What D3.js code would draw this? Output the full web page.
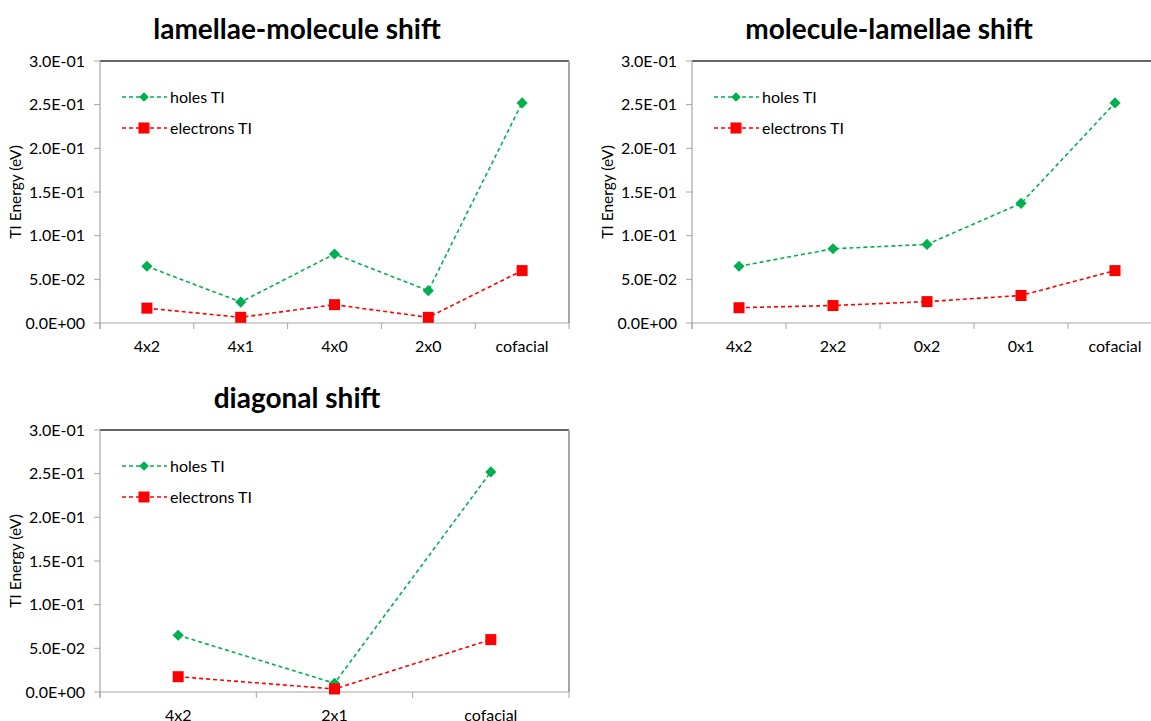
<!DOCTYPE html>
<html>
<head>
<meta charset="utf-8">
<script src="https://cdn.jsdelivr.net/npm/d3@7"></script>
<style>
  body { margin: 0; background: #fff; }
  text { font-family: Lato, "Open Sans", sans-serif; fill: #000; }
</style>
</head>
<body>
<div id="chart"></div>
<script>
// values
const catsLM = ["4x2", "4x1", "4x0", "2x0", "cofacial"];
const holesLM = [0.065, 0.024, 0.079, 0.037, 0.252];
const elecLM = [0.017, 0.0065, 0.021, 0.0065, 0.060];

const catsML = ["4x2", "2x2", "0x2", "0x1", "cofacial"];
const holesML = [0.065, 0.085, 0.090, 0.137, 0.252];
const elecML = [0.0175, 0.020, 0.0245, 0.0315, 0.060];

const catsD = ["4x2", "2x1", "cofacial"];
const holesD = [0.065, 0.010, 0.252];
const elecD = [0.0175, 0.0035, 0.060];

const yTicks = [0, 0.05, 0.10, 0.15, 0.20, 0.25, 0.30];
const yTickLabels = ["0.0E+00", "5.0E-02", "1.0E-01", "1.5E-01", "2.0E-01", "2.5E-01", "3.0E-01"];

const seriesNames = ["holes TI", "electrons TI"];
const green = "#00b050";
const red = "#ff0000";

const svg = d3.select("#chart").append("svg")
  .attr("width", 1151)
  .attr("height", 721);

function drawPanel(left, top, catW, title, cats, holes, elec) {
  const w = catW * cats.length;
  const h = 262;
  const g = svg.append("g").attr("transform", `translate(${left},${top})`);

  const x = d3.scaleBand().domain(cats).range([0, w]).padding(0);
  const y = d3.scaleLinear().domain([0, 0.3]).range([h, 0]);

  // title
  g.append("text")
    .attr("x", 197)
    .attr("y", -22)
    .attr("text-anchor", "middle")
    .attr("font-size", 28)
    .attr("font-weight", "bold")
    .text(title);

  // frame: top dark, right grey
  g.append("line").attr("x1", 0).attr("x2", w).attr("y1", 0).attr("y2", 0)
    .attr("stroke", "#333").attr("stroke-width", 1.5);
  g.append("line").attr("x1", w).attr("x2", w).attr("y1", 0).attr("y2", h)
    .attr("stroke", "#a6a6a6").attr("stroke-width", 2);

  // y axis
  g.append("line").attr("x1", 0).attr("x2", 0).attr("y1", 0).attr("y2", h + 6)
    .attr("stroke", "#a6a6a6").attr("stroke-width", 1.2);
  g.selectAll(".ytick")
    .data(yTicks)
    .join("line")
      .attr("class", "ytick")
      .attr("x1", -6).attr("x2", 0)
      .attr("y1", d => y(d)).attr("y2", d => y(d))
      .attr("stroke", "#a6a6a6");
  g.selectAll(".ylab")
    .data(yTicks)
    .join("text")
      .attr("class", "ylab")
      .attr("x", -15)
      .attr("y", d => y(d))
      .attr("dy", "0.35em")
      .attr("text-anchor", "end")
      .attr("font-size", 16)
      .attr("fill", "#222")
      .text((d, i) => yTickLabels[i]);

  g.append("text")
    .attr("transform", `translate(-79,${h / 2}) rotate(-90)`)
    .attr("text-anchor", "middle")
    .attr("font-size", 15.5)
    .text("TI Energy (eV)");

  // x axis
  g.append("line").attr("x1", 0).attr("x2", w).attr("y1", h).attr("y2", h)
    .attr("stroke", "#a6a6a6").attr("stroke-width", 1.2);
  const bounds = cats.map(c => x(c)).concat([w]);
  g.selectAll(".xtick")
    .data(bounds)
    .join("line")
      .attr("class", "xtick")
      .attr("x1", d => d).attr("x2", d => d)
      .attr("y1", h).attr("y2", h + 6)
      .attr("stroke", "#a6a6a6");
  g.selectAll(".xlab")
    .data(cats)
    .join("text")
      .attr("class", "xlab")
      .attr("x", d => x(d) + x.bandwidth() / 2)
      .attr("y", h + 29)
      .attr("text-anchor", "middle")
      .attr("font-size", 16)
      .attr("fill", "#222")
      .text(d => d);

  const line = d3.line()
    .x((d, i) => x(cats[i]) + x.bandwidth() / 2)
    .y(d => y(d));

  // holes
  g.append("path")
    .datum(holes)
    .attr("d", line)
    .attr("fill", "none")
    .attr("stroke", green)
    .attr("stroke-width", 1.6)
    .attr("stroke-dasharray", "4,3");
  g.selectAll(".hm")
    .data(holes)
    .join("path")
      .attr("class", "hm")
      .attr("transform", (d, i) => `translate(${x(cats[i]) + x.bandwidth() / 2},${y(d)})`)
      .attr("d", d3.symbol(d3.symbolDiamond2, 80))
      .attr("fill", green);

  // electrons
  g.append("path")
    .datum(elec)
    .attr("d", line)
    .attr("fill", "none")
    .attr("stroke", red)
    .attr("stroke-width", 1.6)
    .attr("stroke-dasharray", "4,3");
  g.selectAll(".em")
    .data(elec)
    .join("rect")
      .attr("class", "em")
      .attr("x", (d, i) => x(cats[i]) + x.bandwidth() / 2 - 5.5)
      .attr("y", d => y(d) - 5.5)
      .attr("width", 11).attr("height", 11)
      .attr("fill", red);

  // legend
  const leg = g.append("g").attr("transform", "translate(22,0)");
  [green, red].forEach((c, i) => {
    const ly = 36 + i * 31;
    leg.append("line")
      .attr("x1", 0).attr("x2", 45).attr("y1", ly).attr("y2", ly)
      .attr("stroke", c).attr("stroke-width", 1.6).attr("stroke-dasharray", "4,3");
    if (i === 0) {
      leg.append("path")
        .attr("transform", `translate(22,${ly})`)
        .attr("d", d3.symbol(d3.symbolDiamond2, 60))
        .attr("fill", c);
    } else {
      leg.append("rect")
        .attr("x", 16.5).attr("y", ly - 5.5)
        .attr("width", 11).attr("height", 11)
        .attr("fill", c);
    }
    leg.append("text")
      .attr("x", 48)
      .attr("y", ly)
      .attr("dy", "0.35em")
      .attr("font-size", 16)
      .attr("fill", "#222")
      .text(seriesNames[i]);
  });
}

drawPanel(100, 61, 93.8, "lamellae-molecule shift", catsLM, holesLM, elecLM);
drawPanel(692, 61, 94, "molecule-lamellae shift", catsML, holesML, elecML);
drawPanel(100, 430, 156.33, "diagonal shift", catsD, holesD, elecD);
</script>
</body>
</html>
